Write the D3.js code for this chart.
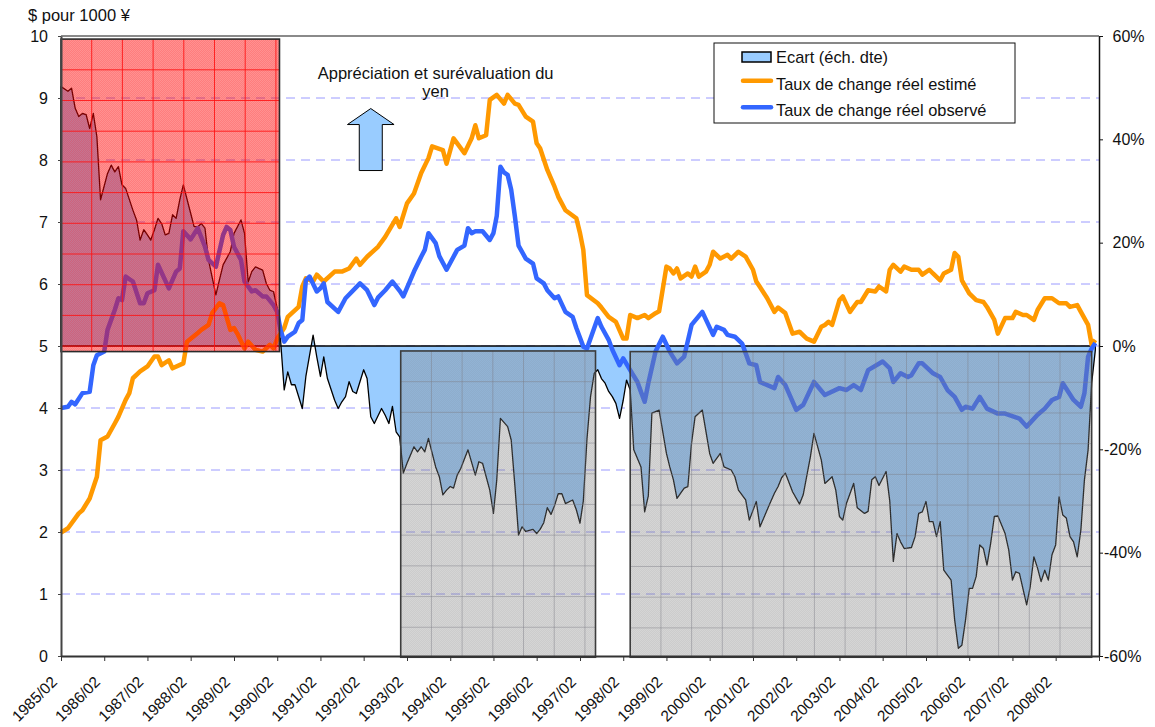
<!DOCTYPE html>
<html>
<head>
<meta charset="utf-8">
<script src="https://cdn.jsdelivr.net/npm/d3@7"></script>
<style>
  body { margin: 0; background: #fff; }
  text { font-family: "Liberation Sans", Arial, sans-serif; fill: #111; }
</style>
</head>
<body>
<svg id="chart" width="1155" height="727"></svg>
<script>
// ---- data ----
const observedDates = ["1985/02","1985/04","1985/05","1985/06","1985/08","1985/10","1985/11","1985/12","1986/02","1986/03","1986/05","1986/06","1986/07","1986/08","1986/10","1986/12","1987/01","1987/02","1987/04","1987/05","1987/08","1987/10","1987/11","1987/12","1988/02","1988/04","1988/06","1988/07","1988/09","1988/11","1988/12","1989/01","1989/02","1989/04","1989/05","1989/07","1989/08","1989/10","1989/11","1990/01","1990/02","1990/03","1990/04","1990/05","1990/07","1990/08","1990/09","1990/10","1990/11","1991/01","1991/02","1991/03","1991/04","1991/07","1991/09","1992/01","1992/03","1992/05","1992/06","1992/08","1992/10","1992/12","1993/01","1993/04","1993/06","1993/07","1993/08","1993/10","1993/11","1994/01","1994/04","1994/06","1994/07","1994/08","1994/09","1994/11","1995/01","1995/02","1995/03","1995/04","1995/05","1995/06","1995/07","1995/08","1995/09","1995/11","1996/01","1996/02","1996/04","1996/05","1996/07","1996/08","1996/10","1996/12","1997/01","1997/03","1997/04","1997/07","1997/08","1997/10","1997/11","1998/01","1998/02","1998/04","1998/06","1998/07","1998/08","1998/09","1998/11","1999/01","1999/03","1999/05","1999/07","1999/09","1999/12","2000/03","2000/04","2000/06","2000/07","2000/09","2000/11","2001/01","2001/03","2001/04","2001/08","2001/09","2001/11","2002/02","2002/04","2002/07","2002/10","2003/02","2003/04","2003/06","2003/08","2003/10","2004/02","2004/04","2004/05","2004/07","2004/09","2004/10","2004/12","2005/01","2005/04","2005/06","2005/08","2005/10","2005/12","2006/01","2006/03","2006/05","2006/07","2006/10","2006/12","2007/04","2007/06","2007/09","2007/11","2008/01","2008/03","2008/04","2008/07","2008/09","2008/10","2008/11","2008/12","2009/01"];
const observedValues = [4.00,4.02,4.10,4.06,4.24,4.26,4.69,4.85,4.91,5.26,5.58,5.77,5.74,6.12,6.04,5.69,5.69,5.85,5.90,6.31,5.93,6.20,6.25,6.85,6.72,6.90,6.60,6.39,6.28,6.79,6.92,6.87,6.60,6.39,6.04,5.88,5.90,5.80,5.80,5.66,5.55,5.26,5.07,5.15,5.23,5.37,5.42,6.06,6.12,5.88,5.93,6.01,5.71,5.55,5.77,6.01,5.90,5.66,5.78,5.90,6.04,5.89,5.80,6.20,6.44,6.55,6.82,6.66,6.45,6.23,6.55,6.62,6.90,6.82,6.85,6.85,6.71,6.82,7.10,7.89,7.80,7.76,7.52,7.09,6.62,6.41,6.33,6.09,6.01,5.90,5.77,5.80,5.55,5.47,5.29,4.99,4.96,5.45,5.31,5.10,4.94,4.69,4.80,4.61,4.42,4.26,4.10,4.40,4.91,5.15,4.91,4.72,4.83,5.34,5.55,5.18,5.31,5.26,5.18,5.15,5.04,4.72,4.69,4.42,4.32,4.50,4.37,3.97,4.05,4.42,4.21,4.32,4.29,4.37,4.29,4.61,4.75,4.64,4.42,4.56,4.50,4.53,4.72,4.72,4.56,4.50,4.29,4.18,3.97,4.02,3.99,4.18,3.99,3.91,3.91,3.83,3.70,3.89,3.99,4.13,4.18,4.40,4.13,4.02,4.24,4.83,4.96,5.05];

const estimatedDates = ["1985/02","1985/04","1985/07","1985/08","1985/10","1985/12","1986/01","1986/03","1986/05","1986/06","1986/08","1986/09","1986/10","1986/12","1987/02","1987/04","1987/05","1987/06","1987/08","1987/09","1987/12","1988/01","1988/04","1988/05","1988/07","1988/08","1988/10","1988/11","1989/01","1989/02","1989/03","1989/05","1989/06","1989/08","1989/10","1989/12","1990/01","1990/02","1990/04","1990/05","1990/08","1990/09","1990/10","1990/12","1991/01","1991/03","1991/06","1991/08","1991/10","1991/12","1992/01","1992/03","1992/06","1992/08","1992/11","1992/12","1993/02","1993/04","1993/06","1993/08","1993/09","1993/12","1994/01","1994/03","1994/06","1994/08","1994/09","1994/10","1994/12","1995/01","1995/03","1995/05","1995/06","1995/08","1995/09","1995/11","1996/01","1996/02","1996/03","1996/05","1996/07","1996/08","1996/10","1997/01","1997/02","1997/03","1997/04","1997/07","1997/08","1997/10","1997/12","1998/02","1998/03","1998/04","1998/06","1998/08","1998/09","1998/11","1998/12","1999/02","1999/03","1999/04","1999/05","1999/06","1999/08","1999/09","1999/10","1999/11","2000/01","2000/02","2000/03","2000/05","2000/07","2000/08","2000/10","2000/12","2001/02","2001/03","2001/04","2001/06","2001/08","2001/09","2001/11","2002/01","2002/03","2002/05","2002/07","2002/09","2002/10","2002/11","2002/12","2003/02","2003/03","2003/05","2003/07","2003/08","2003/10","2003/12","2004/01","2004/03","2004/04","2004/05","2004/07","2004/08","2004/10","2004/12","2005/01","2005/03","2005/04","2005/06","2005/07","2005/09","2005/10","2005/11","2005/12","2006/02","2006/04","2006/06","2006/07","2006/09","2006/10","2006/12","2007/02","2007/03","2007/05","2007/06","2007/08","2007/09","2007/11","2008/01","2008/03","2008/05","2008/06","2008/08","2008/09","2008/11","2008/12","2009/01"];
const estimatedValues = [1.99,2.06,2.30,2.35,2.54,2.89,3.48,3.54,3.75,3.86,4.13,4.24,4.48,4.59,4.67,4.83,4.83,4.69,4.77,4.64,4.72,5.07,5.21,5.26,5.34,5.53,5.69,5.66,5.26,5.29,5.20,4.96,5.07,4.94,4.91,5.02,4.96,5.12,5.29,5.47,5.63,5.96,6.09,6.04,6.15,6.04,6.20,6.20,6.25,6.41,6.31,6.44,6.60,6.76,7.06,6.92,7.30,7.46,7.79,8.03,8.22,8.16,7.94,8.35,8.11,8.35,8.56,8.35,8.40,8.97,9.05,8.91,9.05,8.91,8.89,8.70,8.62,8.27,8.19,7.84,7.57,7.41,7.19,7.06,6.82,6.55,5.82,5.69,5.62,5.47,5.39,5.12,5.12,5.50,5.45,5.50,5.45,5.53,5.56,6.28,6.25,6.17,6.25,6.09,6.17,6.12,6.28,6.12,6.20,6.31,6.52,6.41,6.47,6.41,6.52,6.44,6.23,6.04,5.95,5.77,5.55,5.62,5.53,5.20,5.23,5.12,5.07,5.31,5.34,5.39,5.34,5.74,5.80,5.55,5.71,5.71,5.90,5.88,5.96,5.88,6.23,6.31,6.20,6.28,6.23,6.23,6.15,6.23,6.17,6.06,6.17,6.23,6.50,6.44,6.06,5.85,5.74,5.71,5.63,5.42,5.20,5.45,5.45,5.55,5.50,5.50,5.42,5.58,5.77,5.77,5.69,5.69,5.63,5.66,5.55,5.34,5.02,5.10];

const ecartDates = ["1985/02","1985/04","1985/05","1985/06","1985/07","1985/08","1985/09","1985/10","1985/11","1985/12","1986/01","1986/03","1986/04","1986/05","1986/06","1986/07","1986/08","1986/10","1986/11","1986/12","1987/01","1987/02","1987/03","1987/04","1987/05","1987/06","1987/07","1987/08","1987/09","1987/10","1987/11","1987/12","1988/02","1988/03","1988/04","1988/05","1988/06","1988/07","1988/09","1988/10","1988/11","1989/01","1989/02","1989/04","1989/05","1989/06","1989/07","1989/08","1989/10","1989/11","1989/12","1990/01","1990/02","1990/03","1990/04","1990/05","1990/06","1990/07","1990/09","1990/10","1990/12","1991/01","1991/02","1991/03","1991/04","1991/06","1991/07","1991/08","1991/09","1991/10","1991/11","1991/12","1992/02","1992/03","1992/04","1992/05","1992/07","1992/08","1992/09","1992/10","1992/11","1992/12","1993/01","1993/02","1993/04","1993/05","1993/06","1993/07","1993/08","1993/10","1993/11","1993/12","1994/01","1994/02","1994/03","1994/04","1994/05","1994/07","1994/09","1994/10","1994/11","1995/01","1995/02","1995/03","1995/04","1995/06","1995/07","1995/08","1995/09","1995/10","1995/11","1996/01","1996/02","1996/03","1996/04","1996/05","1996/06","1996/07","1996/08","1996/09","1996/10","1996/12","1997/01","1997/02","1997/03","1997/04","1997/05","1997/06","1997/07","1997/08","1997/09","1997/10","1997/11","1997/12","1998/01","1998/02","1998/03","1998/04","1998/05","1998/07","1998/08","1998/09","1998/10","1998/12","1999/02","1999/03","1999/04","1999/05","1999/07","1999/08","1999/09","1999/10","1999/12","2000/02","2000/03","2000/05","2000/06","2000/08","2000/09","2000/10","2000/12","2001/01","2001/03","2001/04","2001/06","2001/07","2001/08","2001/09","2001/10","2001/11","2002/01","2002/03","2002/04","2002/06","2002/07","2002/09","2002/10","2002/12","2003/01","2003/02","2003/03","2003/04","2003/06","2003/07","2003/09","2003/10","2003/11","2003/12","2004/01","2004/03","2004/04","2004/05","2004/06","2004/07","2004/08","2004/10","2004/11","2004/12","2005/01","2005/02","2005/03","2005/04","2005/05","2005/06","2005/07","2005/09","2005/10","2005/11","2005/12","2006/01","2006/02","2006/03","2006/04","2006/05","2006/06","2006/07","2006/08","2006/09","2006/10","2006/12","2007/01","2007/02","2007/03","2007/04","2007/06","2007/07","2007/08","2007/09","2007/10","2007/11","2007/12","2008/01","2008/02","2008/03","2008/04","2008/05","2008/06","2008/07","2008/08","2008/09","2008/10","2008/11","2008/12","2009/01"];
const ecartValues = [50.2,49.3,49.9,46.0,44.4,45.0,44.8,42.1,45.0,40.5,28.3,33.4,35.0,33.7,34.7,31.2,30.5,26.3,24.4,20.5,22.5,21.5,20.5,22.5,24.7,23.7,21.5,21.8,25.4,24.7,28.3,31.2,25.7,23.1,23.1,23.7,22.8,16.6,9.9,12.8,15.7,18.3,21.8,24.4,21.8,12.4,14.4,15.3,14.7,12.1,10.8,10.5,7.3,1.2,-8.5,-5.0,-7.5,-7.5,-12.1,-5.9,2.1,-2.1,-5.9,-2.1,-6.3,-10.5,-12.1,-10.8,-9.8,-6.9,-8.8,-9.2,-4.6,-6.3,-13.7,-15.0,-12.1,-13.4,-15.0,-11.7,-16.6,-17.6,-24.6,-22.7,-19.5,-20.5,-19.5,-20.5,-17.9,-23.4,-25.3,-28.8,-27.9,-27.2,-27.5,-25.0,-23.7,-20.1,-25.0,-22.4,-22.7,-27.9,-32.4,-25.9,-14.0,-15.6,-18.2,-27.0,-36.6,-35.0,-35.9,-35.5,-36.3,-35.5,-34.2,-31.3,-32.6,-30.9,-28.6,-28.6,-30.5,-29.8,-31.7,-34.3,-30.0,-18.0,-9.8,-5.3,-4.6,-6.3,-7.2,-8.8,-9.8,-11.1,-14.0,-10.5,-6.6,-8.5,-20.1,-23.4,-32.1,-29.0,-13.0,-12.4,-20.8,-23.4,-25.9,-29.5,-27.5,-27.2,-18.8,-13.7,-12.4,-20.8,-22.7,-20.8,-23.4,-24.0,-25.3,-27.9,-29.8,-33.7,-30.1,-35.0,-31.7,-30.1,-28.5,-27.2,-25.5,-24.6,-28.2,-30.6,-28.8,-21.4,-16.9,-22.1,-26.6,-25.3,-27.9,-33.0,-33.7,-30.5,-26.6,-31.3,-32.4,-32.0,-25.9,-25.3,-27.0,-24.3,-30.0,-41.7,-36.3,-37.9,-39.2,-39.0,-36.9,-32.4,-32.1,-30.1,-34.0,-34.0,-36.9,-34.0,-43.4,-45.3,-53.0,-58.5,-57.9,-53.0,-46.9,-46.9,-44.6,-38.5,-39.2,-42.4,-38.2,-33.0,-32.9,-36.3,-39.5,-45.3,-43.7,-44.0,-50.1,-46.6,-40.8,-43.0,-45.6,-43.4,-45.3,-40.4,-38.5,-29.2,-32.7,-33.3,-36.9,-37.9,-40.8,-35.6,-25.9,-20.1,-7.2,-0.8];

const yearTickLabels = d3.range(1985, 2010).map(y => y + "/02");
const leftTicks = d3.range(0, 11);
const rightTicks = [-60, -40, -20, 0, 20, 40, 60];
const legendLabels = ["Ecart (éch. dte)", "Taux de change réel estimé", "Taux de change réel observé"];

// shaded periods (dates, left-axis levels)
const periodStarts = ["1985/02/01", "1992/12/10", "1998/04/01"];
const periodEnds = ["1990/02/20", "1997/06/12", "2008/12/01"];
const periodTops = [9.95, 4.92, 4.91];
const periodBottoms = [4.91, -0.02, -0.02];
const periodKinds = ["red", "gray", "gray"];

const annotationLines = ["Appréciation et surévaluation du", "yen"];

// ---- chart ----
const svg = d3.select("#chart");
const parseMonth = d3.timeParse("%Y/%m");
const parseDay = d3.timeParse("%Y/%m/%d");

const x = d3.scaleTime()
  .domain([parseMonth("1985/02"), parseMonth("2009/02")])
  .range([61, 1099]);
const yLeft = d3.scaleLinear().domain([0, 10]).range([656, 36]);
const yRight = d3.scaleLinear().domain([-60, 60]).range([656, 36]);

const observed = observedDates.map((d, i) => ({ date: parseMonth(d), v: observedValues[i] }));
const estimated = estimatedDates.map((d, i) => ({ date: parseMonth(d), v: estimatedValues[i] }));
const ecart = ecartDates.map((d, i) => ({ date: parseMonth(d), v: ecartValues[i] }));

svg.append("rect").attr("width", 1155).attr("height", 727).attr("fill", "#fff");

// textures for the shaded boxes
const defs = svg.append("defs");
function texture(id, color, a1, a2) {
  const p = defs.append("pattern")
    .attr("id", id)
    .attr("width", 2).attr("height", 2)
    .attr("patternUnits", "userSpaceOnUse");
  [[0, 0, a1], [1, 1, a1], [1, 0, a2], [0, 1, a2]].forEach(([px, py, a]) => {
    p.append("rect").attr("x", px).attr("y", py).attr("width", 1).attr("height", 1)
      .attr("fill", color).attr("fill-opacity", a);
  });
}
texture("redTex", "#ff0000", 0.43, 0.51);
texture("grayTex", "#808080", 0.33, 0.40);

// horizontal dashed grid
svg.append("g")
  .selectAll("line")
  .data(leftTicks.filter(t => t > 0 && t < 10))
  .join("line")
  .attr("x1", 61).attr("x2", 1099)
  .attr("y1", d => yLeft(d)).attr("y2", d => yLeft(d))
  .attr("stroke", "#9a9aff")
  .attr("stroke-width", 1)
  .attr("stroke-dasharray", "9,6");

// top border of plot area
svg.append("line")
  .attr("x1", 61).attr("x2", 1099)
  .attr("y1", yLeft(10)).attr("y2", yLeft(10))
  .attr("stroke", "#8a8a8a").attr("stroke-width", 2);

// ecart area (right scale)
svg.append("path")
  .datum(ecart)
  .attr("fill", "#99ccff")
  .attr("stroke", "#000")
  .attr("stroke-width", 1.3)
  .attr("stroke-linejoin", "round")
  .attr("d", d3.area()
    .x(d => x(d.date))
    .y0(yRight(0))
    .y1(d => yRight(d.v)));

// exchange rate lines
const line = d3.line().x(d => x(d.date)).y(d => yLeft(d.v));
svg.append("path")
  .datum(estimated)
  .attr("fill", "none")
  .attr("stroke", "#ff9900")
  .attr("stroke-width", 4.5)
  .attr("stroke-linejoin", "round")
  .attr("d", line);
svg.append("path")
  .datum(observed)
  .attr("fill", "none")
  .attr("stroke", "#3366ff")
  .attr("stroke-width", 4.5)
  .attr("stroke-linejoin", "round")
  .attr("d", line);

// shaded periods on top
const cell = 30.7;
periodStarts.forEach((s, i) => {
  const x0 = x(parseDay(s)), x1 = x(parseDay(periodEnds[i]));
  const y0 = yLeft(periodTops[i]), y1 = yLeft(periodBottoms[i]);
  const red = periodKinds[i] === "red";
  const g = svg.append("g");
  g.append("rect")
    .attr("x", x0).attr("y", y0)
    .attr("width", x1 - x0).attr("height", y1 - y0)
    .attr("fill", red ? "url(#redTex)" : "url(#grayTex)");
  const gridColor = red ? "#ff1010" : "#7c7c84";
  const gridOpacity = red ? 0.85 : 0.45;
  g.selectAll("line.v")
    .data(d3.range(x0 + cell, x1 - 2, cell))
    .join("line")
    .attr("x1", d => d).attr("x2", d => d)
    .attr("y1", y0).attr("y2", y1)
    .attr("stroke", gridColor).attr("stroke-opacity", gridOpacity).attr("stroke-width", 1);
  g.selectAll("line.h")
    .data(d3.range(y0 + cell, y1 - 2, cell))
    .join("line")
    .attr("x1", x0).attr("x2", x1)
    .attr("y1", d => d).attr("y2", d => d)
    .attr("stroke", gridColor).attr("stroke-opacity", gridOpacity).attr("stroke-width", 1);
  g.append("rect")
    .attr("x", x0).attr("y", y0)
    .attr("width", x1 - x0).attr("height", y1 - y0)
    .attr("fill", "none")
    .attr("stroke", red ? "#2a2a2a" : "#3c3c3c")
    .attr("stroke-width", 1.6);
});

// axes
const leftAxis = svg.append("g")
  .attr("transform", "translate(61,0)")
  .call(d3.axisLeft(yLeft).tickValues(leftTicks).tickSize(3).tickSizeOuter(0).tickPadding(10));
leftAxis.select(".domain").attr("stroke", "#444").attr("stroke-width", 2);
leftAxis.selectAll(".tick line").attr("stroke", "#444");
leftAxis.selectAll("text").attr("font-size", 16).style("font-family", "Liberation Sans, Arial, sans-serif");

const rightAxis = svg.append("g")
  .attr("transform", "translate(1099,0)")
  .call(d3.axisRight(yRight).tickValues(rightTicks).tickSize(4).tickSizeOuter(0)
    .tickFormat(d => d + "%"));
rightAxis.select(".domain").attr("stroke", "#111").attr("stroke-width", 1.5);
rightAxis.selectAll(".tick line").attr("stroke", "#111");
rightAxis.selectAll("text")
  .attr("font-size", 16)
  .attr("x", d => d < 0 ? 5 : 13.5)
  .style("font-family", "Liberation Sans, Arial, sans-serif");

const bottomAxis = svg.append("g")
  .attr("transform", "translate(0,656)")
  .call(d3.axisBottom(x).tickValues(yearTickLabels.map(parseMonth)).tickSize(5)
    .tickSizeOuter(0).tickFormat(""));
bottomAxis.select(".domain").attr("stroke", "#333").attr("stroke-width", 2);
bottomAxis.selectAll(".tick line").attr("stroke", "#333");

svg.append("g")
  .selectAll("text")
  .data(yearTickLabels.slice(0, -1))
  .join("text")
  .attr("transform", d => `translate(${x(parseMonth(d)) - 3},683) rotate(-45)`)
  .attr("text-anchor", "end")
  .attr("font-size", 15.5)
  .text(d => d);

// axis title
svg.append("text")
  .attr("x", 28).attr("y", 21)
  .attr("font-size", 16.5)
  .text("$ pour 1000 ¥");

// annotation
const arrowX = x(parseMonth("1992/04"));
const arrowTop = yLeft(8.83), arrowBottom = yLeft(7.83);
const headBase = arrowTop + 16;
svg.append("path")
  .attr("d", d3.line()([
    [arrowX, arrowTop], [arrowX + 23.3, headBase], [arrowX + 11.5, headBase],
    [arrowX + 11.5, arrowBottom], [arrowX - 11.5, arrowBottom],
    [arrowX - 11.5, headBase], [arrowX - 23.3, headBase]
  ]) + "Z")
  .attr("fill", "#99ccff")
  .attr("stroke", "#000")
  .attr("stroke-width", 1);

const noteX = x(parseMonth("1993/10"));
svg.append("g")
  .selectAll("text")
  .data(annotationLines)
  .join("text")
  .attr("x", noteX)
  .attr("y", (d, i) => 78.5 + i * 18.5)
  .attr("text-anchor", "middle")
  .attr("font-size", 16.5)
  .text(d => d);

// legend
const legend = svg.append("g").attr("transform", "translate(714,43)");
legend.append("rect")
  .attr("width", 301).attr("height", 80)
  .attr("fill", "#fff").attr("stroke", "#111").attr("stroke-width", 1);
legend.append("rect")
  .attr("x", 28).attr("y", 9).attr("width", 29).attr("height", 10)
  .attr("fill", "#99ccff").attr("stroke", "#000").attr("stroke-width", 1.5);
[["#ff9900", 37.7], ["#3366ff", 64.3]].forEach(([c, ly]) => {
  legend.append("line")
    .attr("x1", 29).attr("x2", 57)
    .attr("y1", ly).attr("y2", ly)
    .attr("stroke", c).attr("stroke-width", 4.5).attr("stroke-linecap", "round");
});
legend.selectAll("text.item")
  .data(legendLabels)
  .join("text")
  .attr("x", 62)
  .attr("y", (d, i) => 20.3 + i * 26.3)
  .attr("font-size", 16.4)
  .text(d => d);
</script>
</body>
</html>
